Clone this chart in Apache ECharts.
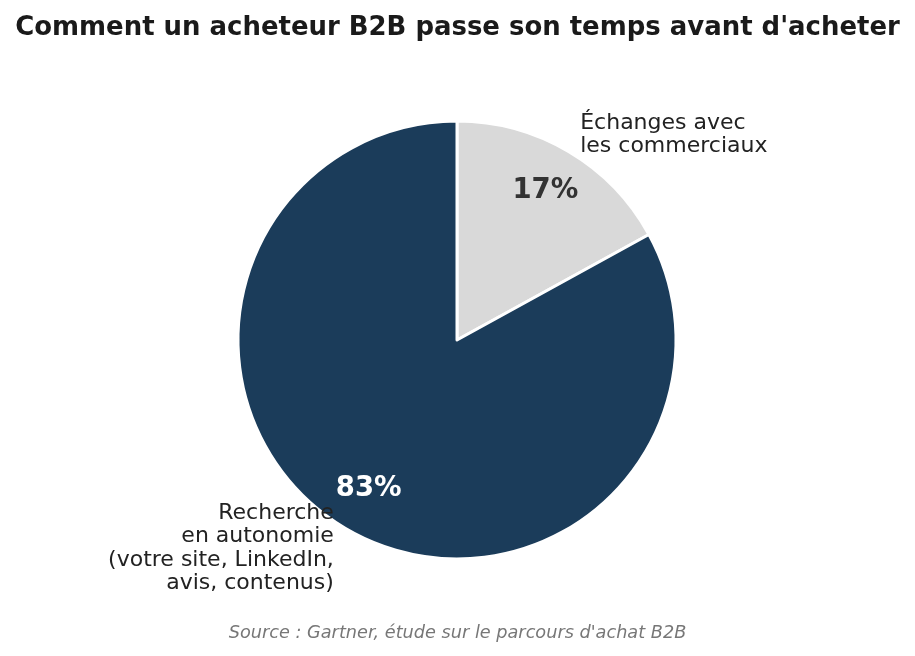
<!DOCTYPE html>
<html lang="fr">
<head>
    <meta charset="UTF-8">
    <title>Acheteur B2B</title>
    <script type="text/javascript" src="https://cdn.jsdelivr.net/npm/echarts@6/dist/echarts.min.js"></script>
    <style>
        html, body { margin: 0; padding: 0; background: #fff; }
    </style>
</head>
<body>
<div id="main" style="width: 915px;height: 656px"></div>
</body>
<script>
    var labels = ["Échanges avec\nles commerciaux", "Recherche\nen autonomie\n(votre site, LinkedIn,\navis, contenus)"]
    var values = [17, 83]
    var colors = ["#d9d9d9", "#1b3c5a"]
    var pctColors = ["#333333", "#ffffff"]

    var font = "DejaVu Sans"
    var cx = 457, cy = 340, r = 219

    var mainData = []
    var pctData = []
    for (var i = 0; i < values.length; i++) {
        mainData.push({name: labels[i], value: values[i], itemStyle: {color: colors[i]}})
        pctData.push({name: labels[i], value: values[i], label: {color: pctColors[i]}})
    }
    // petit décalage vertical du libellé de droite (ligne vide en tête)
    mainData[0].label = {formatter: "{s|}\n{b}", rich: {s: {lineHeight: 6, fontSize: 6}}}

    var myChart = echarts.init(document.getElementById("main"))
    myChart.setOption({
        backgroundColor: "#fff",
        animation: false,
        title: [{
            text: "Comment un acheteur B2B passe son temps avant d'acheter",
            left: "center",
            top: 10,
            textStyle: {fontFamily: font, fontSize: 25.95, fontWeight: "bold", color: "#1a1a1a"}
        }, {
            text: "Source : Gartner, étude sur le parcours d'achat B2B",
            left: "center",
            top: 619,
            textStyle: {fontFamily: font, fontSize: 17.7, fontWeight: "normal", fontStyle: "italic", color: "#777777"}
        }],
        series: [{
            type: "pie",
            center: [cx, cy],
            radius: [0, r],
            startAngle: 90,
            clockwise: true,
            silent: true,
            avoidLabelOverlap: false,
            itemStyle: {borderColor: "#fff", borderWidth: 3},
            label: {
                show: true,
                position: "outside",
                distanceToLabelLine: 0,
                fontFamily: font,
                fontSize: 22,
                lineHeight: 23.5,
                color: "#222222"
            },
            labelLine: {show: false, length: 23, length2: 0},
            data: mainData
        }, {
            type: "pie",
            center: [cx, cy],
            radius: [122, r],
            startAngle: 90,
            clockwise: true,
            silent: true,
            itemStyle: {color: "transparent", borderWidth: 0},
            label: {
                show: true,
                position: "inside",
                fontFamily: font,
                fontSize: 27.5,
                fontWeight: "bold",
                formatter: function (p) { return p.value + "%" }
            },
            labelLine: {show: false},
            data: pctData
        }]
    })
</script>
</html>
